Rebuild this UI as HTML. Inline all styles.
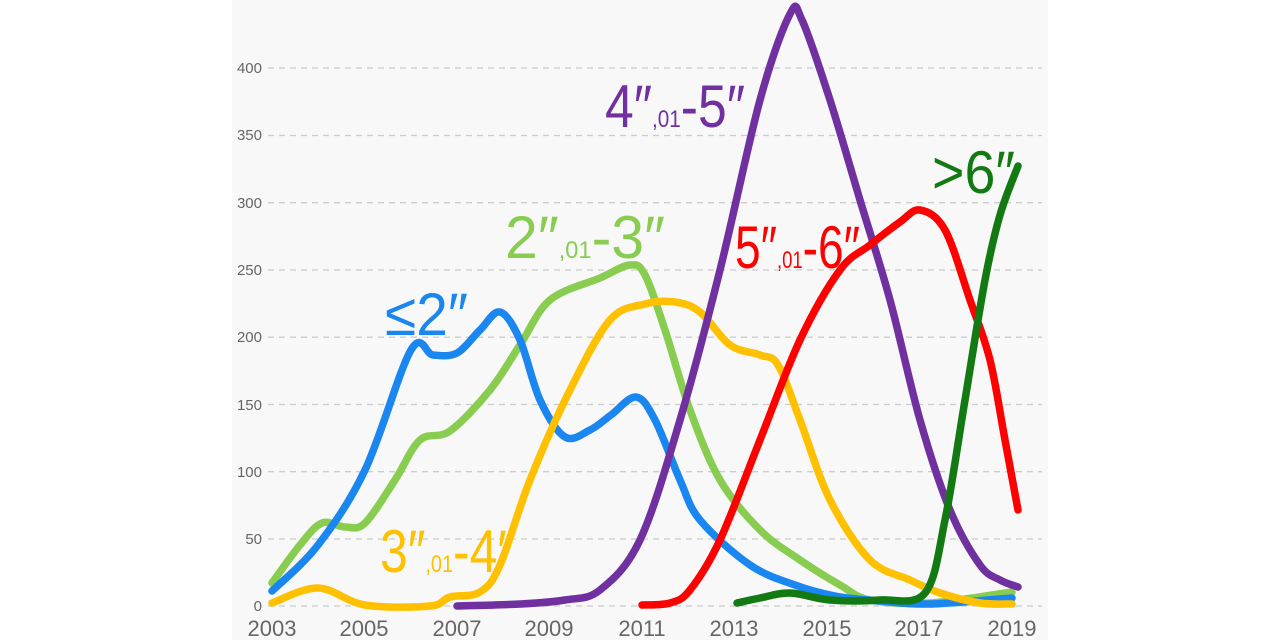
<!DOCTYPE html>
<html><head><meta charset="utf-8"><style>
html,body{margin:0;padding:0;background:#fff;}
svg{display:block;}
.t{font-family:"Liberation Sans",sans-serif;fill:#666;}
.l{font-family:"Liberation Sans",sans-serif;font-size:60px;}
.s{font-size:24px;}
</style></head><body>
<svg id="c" width="1280" height="640" viewBox="0 0 1280 640">
<rect x="232" y="0" width="816" height="640" fill="#f8f8f8"/>
<g stroke="#ccc" stroke-width="1.3" stroke-dasharray="6,5">
<line x1="268" x2="1042" y1="68" y2="68"/><line x1="268" x2="1042" y1="135.5" y2="135.5"/>
<line x1="268" x2="1042" y1="202.7" y2="202.7"/><line x1="268" x2="1042" y1="270" y2="270"/>
<line x1="268" x2="1042" y1="337.2" y2="337.2"/><line x1="268" x2="1042" y1="404.5" y2="404.5"/>
<line x1="268" x2="1042" y1="471.7" y2="471.7"/><line x1="268" x2="1042" y1="539" y2="539"/>
<line x1="268" x2="1042" y1="606" y2="606"/>
</g>
<g class="t" font-size="15" text-anchor="end">
<text x="262" y="73">400</text><text x="262" y="140">350</text><text x="262" y="208">300</text>
<text x="262" y="275">250</text><text x="262" y="342">200</text><text x="262" y="410">150</text>
<text x="262" y="477">100</text><text x="262" y="544">50</text><text x="262" y="611">0</text>
</g>
<g class="t" font-size="22" text-anchor="middle">
<text x="272" y="636">2003</text><text x="364" y="636">2005</text><text x="457" y="636">2007</text>
<text x="549" y="636">2009</text><text x="642" y="636">2011</text><text x="734" y="636">2013</text>
<text x="827" y="636">2015</text><text x="919" y="636">2017</text><text x="1012" y="636">2019</text>
</g>
<g id="lines" fill="none" stroke-width="7.5" stroke-linecap="round" stroke-linejoin="round"></g>
<text class="l" x="385" y="335" fill="#1a86f0" textLength="83" lengthAdjust="spacingAndGlyphs">≤2″</text>
<text class="l" x="505" y="258" fill="#88cc50" textLength="160" lengthAdjust="spacingAndGlyphs">2″<tspan class="s">,01</tspan>-3″</text>
<text class="l" x="380" y="572" fill="#ffc000" textLength="135" lengthAdjust="spacingAndGlyphs">3″<tspan class="s">,01</tspan>-4″</text>
<text class="l" x="605" y="127" fill="#7030a0" textLength="140" lengthAdjust="spacingAndGlyphs">4″<tspan class="s">,01</tspan>-5″</text>
<text class="l" x="735" y="268" fill="#ff0000" textLength="125" lengthAdjust="spacingAndGlyphs">5″<tspan class="s">,01</tspan>-6″</text>
<text class="l" x="932" y="193" fill="#137a13" textLength="83" lengthAdjust="spacingAndGlyphs">&gt;6″</text>
</svg>
<script>
var S=[
["#88cc50",[[272,583],[300,545],[322,523],[345,527],[365,523],[395,480],[420,440],[450,431],[490,390],[520,345],[550,300],[600,278],[630,265],[645,275],[665,330],[690,410],[720,480],[760,530],[800,560],[840,585],[870,600],[930,603],[1012,592]]],
["#1a86f0",[[272,591],[318,545],[365,470],[411,350],[433,355],[457,353],[480,330],[500,312],[520,340],[540,400],[565,437],[590,430],[611,415],[636,397],[655,420],[680,480],[700,520],[750,565],[795,585],[835,596],[880,601],[930,604],[1012,598]]],
["#ffc000",[[272,603],[318,588],[365,605],[430,606],[450,597],[480,592],[500,565],[530,480],[570,390],[610,320],[645,304],[675,302],[700,312],[730,345],[760,355],[778,365],[800,420],[830,500],[870,560],[910,580],[940,593],[980,603],[1012,604]]],
["#7030a0",[[457,606],[520,604],[565,600],[600,590],[640,540],[680,420],[720,270],[760,100],[790,14],[802,20],[830,100],[860,200],[890,300],[920,420],[950,510],[980,565],[1000,580],[1018,587]]],
["#ff0000",[[642,605],[670,603],[690,590],[720,540],[760,440],[800,340],[840,270],[870,245],[900,222],[920,210],[945,230],[970,300],[990,360],[1005,440],[1018,510]]],
["#137a13",[[737,603],[760,598],[790,593],[830,600],[880,600],[925,593],[945,520],[965,400],[985,280],[1000,215],[1018,166]]]
];
var g=document.getElementById("lines");
S.forEach(function(s){var p=s[1],d="M"+p[0][0]+","+p[0][1];
for(var i=0;i<p.length-1;i++){var a=p[i-1]||p[i],b=p[i],c=p[i+1],e=p[i+2]||c;
d+=" C"+(b[0]+(c[0]-a[0])/6)+","+(b[1]+(c[1]-a[1])/6)+" "+(c[0]-(e[0]-b[0])/6)+","+(c[1]-(e[1]-b[1])/6)+" "+c[0]+","+c[1];}
var el=document.createElementNS("http://www.w3.org/2000/svg","path");el.setAttribute("d",d);el.setAttribute("stroke",s[0]);g.appendChild(el);});
</script>
</body></html>
